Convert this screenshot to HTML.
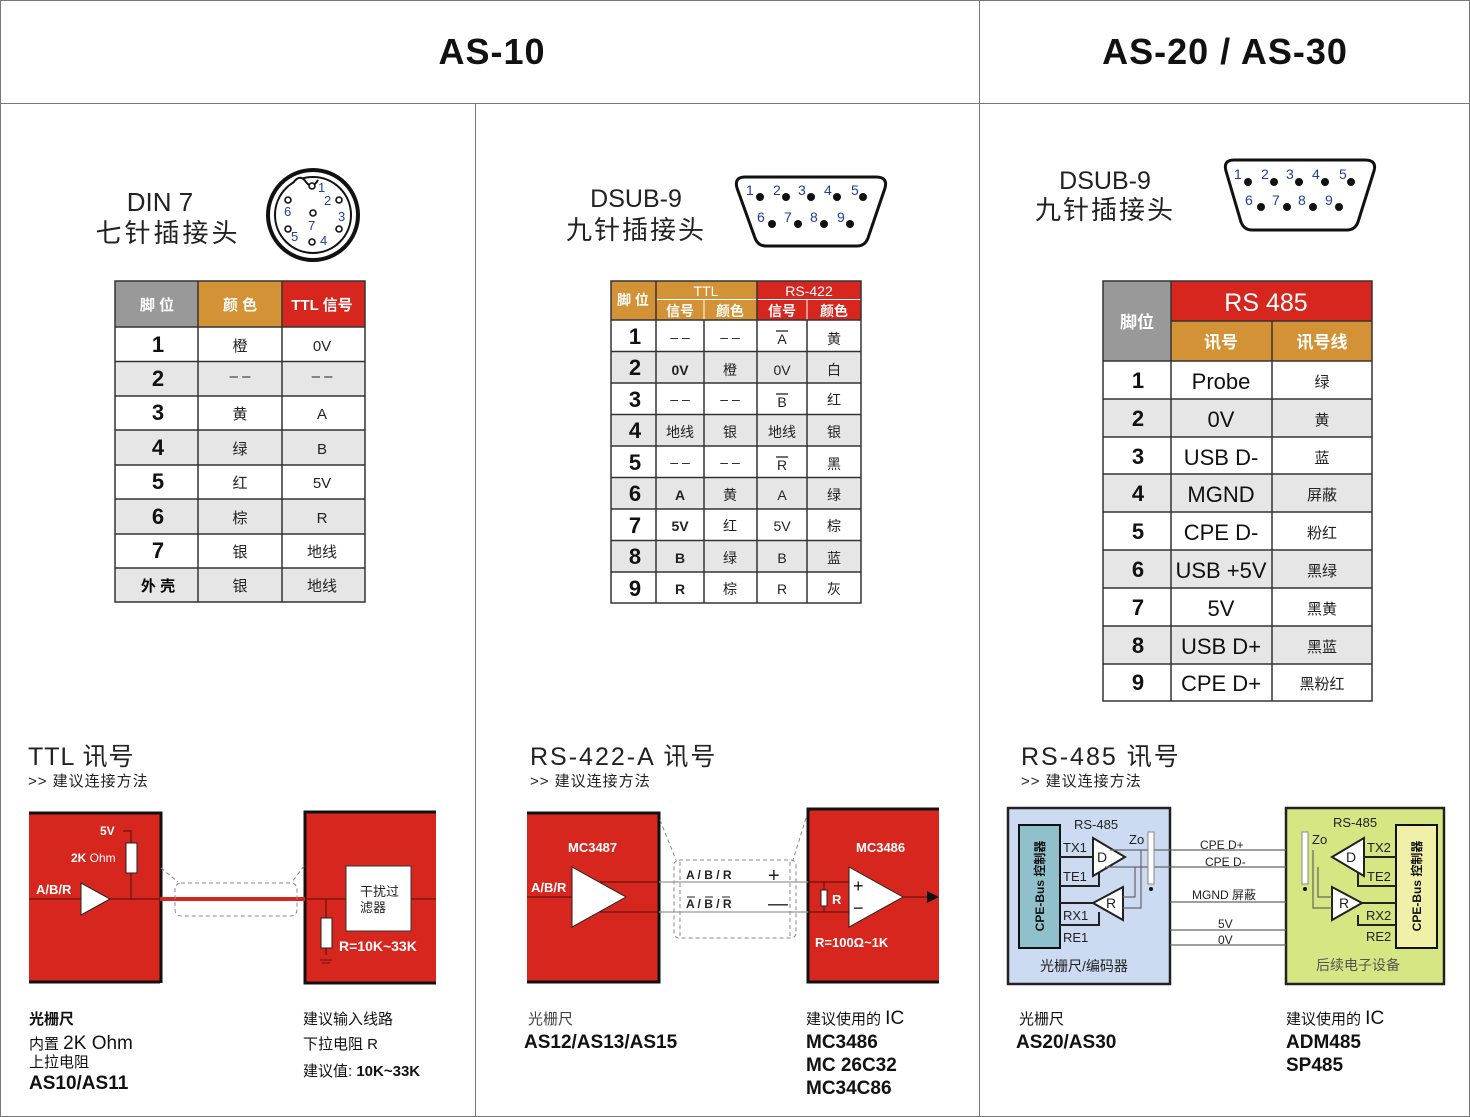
<!DOCTYPE html>
<html><head><meta charset="utf-8"><style>
html,body{margin:0;padding:0;background:#fff}
svg{display:block}
text{font-family:"Liberation Sans","Noto Sans CJK SC",sans-serif}
.b{font-weight:bold}
</style></head><body>
<svg width="1470" height="1117" viewBox="0 0 1470 1117" xmlns="http://www.w3.org/2000/svg">
<rect x="0.5" y="0.5" width="1469" height="1116" fill="none" stroke="#777" stroke-width="1"/>
<line x1="0" y1="103.5" x2="1470" y2="103.5" stroke="#777"/>
<line x1="979.5" y1="0" x2="979.5" y2="1117" stroke="#777"/>
<line x1="475.5" y1="103" x2="475.5" y2="1117" stroke="#777"/>
<text x="492" y="64" font-size="36" class="b" text-anchor="middle" fill="#111" letter-spacing="1">AS-10</text>
<text x="1225" y="64" font-size="36" class="b" text-anchor="middle" fill="#111" letter-spacing="1">AS-20 / AS-30</text>

<text x="160" y="211" font-size="26" text-anchor="middle" fill="#222">DIN 7</text>
<text x="168" y="242" font-size="26" text-anchor="middle" fill="#222" letter-spacing="3">七针插接头</text>
<g fill="none" stroke="#111">
<circle cx="313" cy="215" r="45" stroke-width="4"/>
<circle cx="313" cy="215" r="38" stroke-width="2"/>
</g>
<path d="M293 183 Q300 173 306 182 Q312 190 318 180" fill="#fff" stroke="#111" stroke-width="2"/>
<g fill="#fff" stroke="#111" stroke-width="1.6">
<circle cx="312" cy="186" r="3"/><circle cx="339" cy="200" r="3"/><circle cx="339" cy="229" r="3"/>
<circle cx="312" cy="242" r="3"/><circle cx="288" cy="229" r="3"/><circle cx="288" cy="200" r="3"/><circle cx="313" cy="213" r="3"/>
</g>
<g fill="#1d3fa0" font-size="13">
<text x="318" y="192">1</text><text x="324" y="205">2</text><text x="338" y="221">3</text><text x="320" y="245">4</text>
<text x="291" y="241">5</text><text x="284" y="216">6</text><text x="308" y="230">7</text>
</g>

<rect x="115" y="281" width="83" height="46" fill="#999"/>
<rect x="198" y="281" width="84" height="46" fill="#d49236"/>
<rect x="282" y="281" width="83" height="46" fill="#d7261e"/>
<g fill="#fff" font-size="15" class="b" text-anchor="middle">
<text x="157" y="310">脚 位</text><text x="240" y="310">颜 色</text><text x="322" y="310">TTL 信号</text>
</g>
<g fill="#e6e6e6">
<rect x="115" y="361.5" width="250" height="34.5"/><rect x="115" y="430" width="250" height="35"/>
<rect x="115" y="499" width="250" height="35"/><rect x="115" y="568" width="250" height="34"/>
</g>
<g stroke="#333" stroke-width="1.5" fill="none">
<rect x="115" y="281" width="250" height="321"/>
<line x1="198" y1="281" x2="198" y2="602"/><line x1="282" y1="281" x2="282" y2="602"/>
<line x1="115" y1="327" x2="365" y2="327"/><line x1="115" y1="361.5" x2="365" y2="361.5"/>
<line x1="115" y1="396" x2="365" y2="396"/><line x1="115" y1="430" x2="365" y2="430"/>
<line x1="115" y1="465" x2="365" y2="465"/><line x1="115" y1="499" x2="365" y2="499"/>
<line x1="115" y1="534" x2="365" y2="534"/><line x1="115" y1="568" x2="365" y2="568"/>
</g>
<g font-size="22" class="b" text-anchor="middle" fill="#111">
<text x="158" y="352">1</text><text x="158" y="386">2</text><text x="158" y="420">3</text><text x="158" y="455">4</text>
<text x="158" y="489">5</text><text x="158" y="524">6</text><text x="158" y="558">7</text>
</g>
<text x="158" y="591" font-size="15" class="b" text-anchor="middle">外 壳</text>
<g font-size="15" text-anchor="middle" fill="#222">
<text x="240" y="351">橙</text><text x="322" y="351">0V</text>
<text x="240" y="381">– –</text><text x="322" y="381">– –</text>
<text x="240" y="419">黄</text><text x="322" y="419">A</text>
<text x="240" y="454">绿</text><text x="322" y="454">B</text>
<text x="240" y="488">红</text><text x="322" y="488">5V</text>
<text x="240" y="523">棕</text><text x="322" y="523">R</text>
<text x="240" y="557">银</text><text x="322" y="557">地线</text>
<text x="240" y="591">银</text><text x="322" y="591">地线</text>
</g>

<text x="636" y="207" font-size="25" text-anchor="middle" fill="#222">DSUB-9</text>
<text x="636" y="239" font-size="26" text-anchor="middle" fill="#222" letter-spacing="2">九针插接头</text>
<path d="M745 177 L876 177 Q888 177 885 188 L868 238 Q865 246 857 246 L766 246 Q758 246 755 238 L737 188 Q734 177 745 177 Z" fill="#fff" stroke="#111" stroke-width="3"/>
<g fill="#111"><circle cx="760" cy="197" r="4"/><circle cx="786" cy="197" r="4"/><circle cx="811" cy="197" r="4"/><circle cx="837" cy="197" r="4"/><circle cx="863" cy="197" r="4"/>
<circle cx="772" cy="224" r="4"/><circle cx="798" cy="224" r="4"/><circle cx="824" cy="224" r="4"/><circle cx="850" cy="224" r="4"/></g>
<g fill="#1d3fa0" font-size="14"><text x="746" y="195">1</text><text x="773" y="195">2</text><text x="798" y="195">3</text><text x="824" y="195">4</text><text x="851" y="195">5</text>
<text x="757" y="222">6</text><text x="784" y="222">7</text><text x="810" y="222">8</text><text x="837" y="222">9</text></g>

<rect x="611" y="281" width="45" height="39" fill="#d49236"/>
<rect x="656" y="281" width="101" height="39" fill="#d49236"/>
<rect x="757" y="281" width="104" height="39" fill="#d7261e"/>
<g fill="#fff" font-size="14" class="b" text-anchor="middle">
<text x="633" y="305">脚 位</text>
<text x="680" y="316">信号</text><text x="730" y="316">颜色</text><text x="782" y="316">信号</text><text x="834" y="316">颜色</text>
</g>
<g fill="#fff" font-size="14" text-anchor="middle"><text x="706" y="296">TTL</text><text x="809" y="296">RS-422</text></g>
<g stroke="#fff" stroke-width="1"><line x1="656" y1="299.5" x2="861" y2="299.5"/><line x1="704" y1="300" x2="704" y2="320"/><line x1="807" y1="300" x2="807" y2="320"/></g>
<g fill="#e6e6e6">
<rect x="611" y="351.5" width="250" height="31.5"/><rect x="611" y="414.5" width="250" height="31.5"/>
<rect x="611" y="477.5" width="250" height="31.5"/><rect x="611" y="540.5" width="250" height="31.5"/>
</g>
<g stroke="#333" stroke-width="1.5" fill="none">
<rect x="611" y="281" width="250" height="322"/>
<line x1="656" y1="281" x2="656" y2="603"/><line x1="757" y1="281" x2="757" y2="603"/>
<line x1="704" y1="320" x2="704" y2="603"/><line x1="807" y1="320" x2="807" y2="603"/>
<line x1="611" y1="320" x2="861" y2="320"/><line x1="611" y1="351.5" x2="861" y2="351.5"/>
<line x1="611" y1="383" x2="861" y2="383"/><line x1="611" y1="414.5" x2="861" y2="414.5"/>
<line x1="611" y1="446" x2="861" y2="446"/><line x1="611" y1="477.5" x2="861" y2="477.5"/>
<line x1="611" y1="509" x2="861" y2="509"/><line x1="611" y1="540.5" x2="861" y2="540.5"/>
<line x1="611" y1="572" x2="861" y2="572"/>
</g>
<g font-size="22" class="b" text-anchor="middle" fill="#111">
<text x="635" y="344">1</text><text x="635" y="375">2</text><text x="635" y="407">3</text><text x="635" y="438">4</text><text x="635" y="470">5</text>
<text x="635" y="501">6</text><text x="635" y="533">7</text><text x="635" y="564">8</text><text x="635" y="596">9</text>
</g>
<g font-size="14" text-anchor="middle" fill="#222">
<text x="680" y="342">– –</text><text x="730" y="342">– –</text><text x="782" y="344">A</text><text x="834" y="344">黄</text>
<text x="680" y="375" class="b">0V</text><text x="730" y="375">橙</text><text x="782" y="375">0V</text><text x="834" y="375">白</text>
<text x="680" y="404">– –</text><text x="730" y="404">– –</text><text x="782" y="407">B</text><text x="834" y="405">红</text>
<text x="680" y="437">地线</text><text x="730" y="437">银</text><text x="782" y="437">地线</text><text x="834" y="437">银</text>
<text x="680" y="467">– –</text><text x="730" y="467">– –</text><text x="782" y="470">R</text><text x="834" y="469">黑</text>
<text x="680" y="500" class="b">A</text><text x="730" y="500">黄</text><text x="782" y="500">A</text><text x="834" y="500">绿</text>
<text x="680" y="531" class="b">5V</text><text x="730" y="531">红</text><text x="782" y="531">5V</text><text x="834" y="531">棕</text>
<text x="680" y="563" class="b">B</text><text x="730" y="563">绿</text><text x="782" y="563">B</text><text x="834" y="563">蓝</text>
<text x="680" y="594" class="b">R</text><text x="730" y="594">棕</text><text x="782" y="594">R</text><text x="834" y="594">灰</text>
</g>
<g stroke="#222" stroke-width="1.3"><line x1="776" y1="331" x2="788" y2="331"/><line x1="776" y1="394" x2="788" y2="394"/><line x1="776" y1="457" x2="788" y2="457"/></g>

<text x="1105" y="189" font-size="25" text-anchor="middle" fill="#222">DSUB-9</text>
<text x="1105" y="219" font-size="26" text-anchor="middle" fill="#222" letter-spacing="2">九针插接头</text>
<path d="M1234 160 L1365 160 Q1377 160 1374 171 L1358 222 Q1355 230 1347 230 L1252 230 Q1244 230 1241 222 L1226 171 Q1223 160 1234 160 Z" fill="#fff" stroke="#111" stroke-width="3"/>
<g fill="#111"><circle cx="1248" cy="182" r="4"/><circle cx="1274" cy="182" r="4"/><circle cx="1299" cy="182" r="4"/><circle cx="1325" cy="182" r="4"/><circle cx="1351" cy="182" r="4"/>
<circle cx="1261" cy="207" r="4"/><circle cx="1287" cy="207" r="4"/><circle cx="1313" cy="207" r="4"/><circle cx="1339" cy="207" r="4"/></g>
<g fill="#1d3fa0" font-size="14"><text x="1234" y="179">1</text><text x="1261" y="179">2</text><text x="1286" y="179">3</text><text x="1312" y="179">4</text><text x="1339" y="179">5</text>
<text x="1245" y="205">6</text><text x="1272" y="205">7</text><text x="1298" y="205">8</text><text x="1325" y="205">9</text></g>

<rect x="1103" y="281" width="68" height="80" fill="#999"/>
<rect x="1171" y="281" width="201" height="40" fill="#d7261e"/>
<rect x="1171" y="321" width="201" height="40" fill="#d49236"/>
<text x="1137" y="328" font-size="17" class="b" fill="#fff" text-anchor="middle">脚位</text>
<text x="1266" y="311" font-size="25" fill="#fff" text-anchor="middle">RS 485</text>
<text x="1221" y="348" font-size="17" class="b" fill="#fff" text-anchor="middle">讯号</text>
<text x="1322" y="348" font-size="17" class="b" fill="#fff" text-anchor="middle">讯号线</text>
<g fill="#e6e6e6">
<rect x="1103" y="399" width="269" height="38"/><rect x="1103" y="474" width="269" height="38"/>
<rect x="1103" y="550" width="269" height="38"/><rect x="1103" y="626" width="269" height="38"/>
</g>
<g stroke="#333" stroke-width="1.5" fill="none">
<rect x="1103" y="281" width="269" height="420"/>
<line x1="1171" y1="281" x2="1171" y2="701"/><line x1="1272" y1="321" x2="1272" y2="701"/>
<line x1="1171" y1="321" x2="1372" y2="321"/>
<line x1="1103" y1="361" x2="1372" y2="361"/><line x1="1103" y1="399" x2="1372" y2="399"/>
<line x1="1103" y1="437" x2="1372" y2="437"/><line x1="1103" y1="474" x2="1372" y2="474"/>
<line x1="1103" y1="512" x2="1372" y2="512"/><line x1="1103" y1="550" x2="1372" y2="550"/>
<line x1="1103" y1="588" x2="1372" y2="588"/><line x1="1103" y1="626" x2="1372" y2="626"/>
<line x1="1103" y1="664" x2="1372" y2="664"/>
</g>
<g font-size="22" class="b" text-anchor="middle" fill="#111">
<text x="1138" y="388">1</text><text x="1138" y="426">2</text><text x="1138" y="464">3</text><text x="1138" y="501">4</text><text x="1138" y="539">5</text>
<text x="1138" y="577">6</text><text x="1138" y="615">7</text><text x="1138" y="653">8</text><text x="1138" y="690">9</text>
</g>
<g font-size="22" text-anchor="middle" fill="#111">
<text x="1221" y="389">Probe</text><text x="1221" y="427">0V</text><text x="1221" y="465">USB D-</text><text x="1221" y="502">MGND</text>
<text x="1221" y="540">CPE D-</text><text x="1221" y="578">USB +5V</text><text x="1221" y="616">5V</text><text x="1221" y="654">USB D+</text><text x="1221" y="691">CPE D+</text>
</g>
<g font-size="15" text-anchor="middle" fill="#222">
<text x="1322" y="387">绿</text><text x="1322" y="425">黄</text><text x="1322" y="463">蓝</text><text x="1322" y="500">屏蔽</text>
<text x="1322" y="538">粉红</text><text x="1322" y="576">黑绿</text><text x="1322" y="614">黑黄</text><text x="1322" y="652">黑蓝</text><text x="1322" y="689">黑粉红</text>
</g>

<text x="28" y="765" font-size="25" fill="#222" letter-spacing="1">TTL 讯号</text>
<text x="28" y="786" font-size="15" fill="#222" letter-spacing="1">&gt;&gt; 建议连接方法</text>
<text x="530" y="765" font-size="25" fill="#222" letter-spacing="2">RS-422-A 讯号</text>
<text x="530" y="786" font-size="15" fill="#222" letter-spacing="1">&gt;&gt; 建议连接方法</text>
<text x="1021" y="765" font-size="25" fill="#222" letter-spacing="2">RS-485 讯号</text>
<text x="1021" y="786" font-size="15" fill="#222" letter-spacing="1">&gt;&gt; 建议连接方法</text>

<rect x="29" y="812" width="131" height="170" fill="#d7261e"/>
<path d="M29 813 H161 V983" fill="none" stroke="#111" stroke-width="3"/>
<line x1="29" y1="982" x2="160" y2="982" stroke="#111" stroke-width="3"/>
<rect x="305" y="812" width="131" height="171" fill="#d7261e"/>
<path d="M436 812 H305 V983 H436" fill="none" stroke="#111" stroke-width="3"/>
<g stroke="#6a1410" stroke-width="1.3" fill="none">
<line x1="29" y1="899" x2="160" y2="899"/>
<polyline points="123,831 131,831 131,899"/>
<line x1="305" y1="899" x2="436" y2="899"/>
<polyline points="326,899 326,955"/>
</g>
<line x1="160" y1="899" x2="305" y2="899" stroke="#d7261e" stroke-width="4"/>
<rect x="126" y="843" width="11" height="30" fill="#fff" stroke="#222"/>
<polygon points="81,883 110,899 81,915" fill="#fff" stroke="#222"/>
<rect x="321" y="918" width="11" height="30" fill="#fff" stroke="#222"/>
<g stroke="#6a1410"><line x1="320" y1="960" x2="332" y2="960"/><line x1="322" y1="963" x2="330" y2="963"/></g>
<rect x="346" y="866" width="65" height="65" fill="#fff" stroke="#333"/>
<g fill="#fff" font-size="12" class="b"><text x="100" y="835">5V</text><text x="36" y="894" font-size="13">A/B/R</text><text x="339" y="951" font-size="14">R=10K~33K</text></g>
<text x="71" y="862" font-size="12" fill="#fff"><tspan class="b">2K</tspan> Ohm</text>
<text x="360" y="896" font-size="13" fill="#222">干扰过</text><text x="360" y="912" font-size="13" fill="#222">滤器</text>
<g stroke="#888" stroke-dasharray="4,3" fill="none" stroke-width="1">
<rect x="175" y="883" width="122" height="33" rx="6"/>
<line x1="161" y1="868" x2="178" y2="882"/><line x1="304" y1="866" x2="292" y2="882"/>
</g>
<g fill="#111">
<text x="29" y="1024" font-size="15" class="b">光栅尺</text>
<text x="29" y="1049" font-size="15">内置 <tspan font-size="19">2K Ohm</tspan></text>
<text x="29" y="1067" font-size="15">上拉电阻</text>
<text x="29" y="1089" font-size="19" class="b">AS10/AS11</text>
<text x="303" y="1024" font-size="15">建议输入线路</text>
<text x="303" y="1049" font-size="15">下拉电阻 R</text>
<text x="303" y="1076" font-size="15">建议值: <tspan class="b">10K~33K</tspan></text>
</g>

<rect x="527" y="812" width="131" height="170" fill="#d7261e"/>
<path d="M527 813 H659 V982 H527" fill="none" stroke="#111" stroke-width="3"/>
<rect x="808" y="809" width="131" height="173" fill="#d7261e"/>
<path d="M939 809 H808 V982 H939" fill="none" stroke="#111" stroke-width="3"/>
<g stroke="#6a1410" stroke-width="1.2"><line x1="527" y1="897" x2="575" y2="897"/><line x1="600" y1="882" x2="659" y2="882"/><line x1="600" y1="912" x2="659" y2="912"/>
<line x1="808" y1="882" x2="850" y2="882"/><line x1="808" y1="912" x2="850" y2="912"/><line x1="824" y1="882" x2="824" y2="912"/><line x1="903" y1="897" x2="930" y2="897"/></g>
<g stroke="#999" stroke-width="1.3"><line x1="659" y1="882" x2="808" y2="882"/><line x1="659" y1="912" x2="808" y2="912"/></g>
<polygon points="572,867 626,897 572,927" fill="#fff" stroke="#222"/>
<polygon points="849,867 903,897 849,927" fill="#fff" stroke="#222"/>
<polygon points="927,891 939,897 927,903" fill="#111"/>
<rect x="821" y="890" width="6" height="16" fill="#fff" stroke="#222"/>
<g fill="#fff" font-size="13" class="b"><text x="568" y="852">MC3487</text><text x="856" y="852">MC3486</text><text x="531" y="892">A/B/R</text><text x="832" y="904">R</text><text x="815" y="947">R=100Ω~1K</text></g>
<g fill="#111"><text x="853" y="892" font-size="18">+</text><text x="853" y="914" font-size="18">−</text></g>
<g fill="#222" font-size="12" class="b"><text x="686" y="879">A / B / R</text><text x="686" y="908">A / B / R</text></g>
<g stroke="#222"><line x1="687" y1="897" x2="695" y2="897"/><line x1="705" y1="897" x2="713" y2="897"/><line x1="722" y1="897" x2="730" y2="897"/></g>
<g fill="#222" font-size="20"><text x="768" y="882">+</text><text x="768" y="910">—</text></g>
<g stroke="#888" stroke-dasharray="4,3" fill="none">
<rect x="674" y="860" width="122" height="78" rx="5"/>
<line x1="660" y1="820" x2="676" y2="860"/><line x1="806" y1="818" x2="793" y2="860"/>
<line x1="680" y1="862" x2="680" y2="936"/><line x1="790" y1="862" x2="790" y2="936"/>
</g>
<g fill="#111">
<text x="528" y="1024" font-size="15" fill="#444">光栅尺</text>
<text x="524" y="1048" font-size="19" class="b">AS12/AS13/AS15</text>
<text x="806" y="1024" font-size="15">建议使用的 <tspan font-size="19">IC</tspan></text>
<text x="806" y="1048" font-size="19" class="b">MC3486</text>
<text x="806" y="1071" font-size="19" class="b">MC 26C32</text>
<text x="806" y="1094" font-size="19" class="b">MC34C86</text>
</g>

<rect x="1008" y="808" width="162" height="176" fill="#ccdaf2" stroke="#222" stroke-width="2.5"/>
<rect x="1019" y="825" width="41" height="123" fill="#8fc0cc" stroke="#111" stroke-width="2"/>
<rect x="1286" y="808" width="158" height="176" fill="#d6e683" stroke="#222" stroke-width="2.5"/>
<rect x="1396" y="825" width="41" height="123" fill="#f0f0a8" stroke="#111" stroke-width="2"/>
<text transform="translate(1044,886) rotate(-90)" font-size="12" class="b" text-anchor="middle" fill="#111">CPE-Bus  控制器</text>
<text transform="translate(1421,886) rotate(-90)" font-size="12" class="b" text-anchor="middle" fill="#111">CPE-Bus  控制器</text>
<g stroke="#222" stroke-width="2" fill="none">
<polyline points="1060,857 1095,857"/><polyline points="1060,886 1099,886 1099,870"/>
<polyline points="1060,903 1093,903"/><polyline points="1060,925 1099,925 1099,912"/>
<polyline points="1396,857 1365,857"/><polyline points="1396,886 1358,886 1358,870"/>
<polyline points="1396,903 1362,903"/><polyline points="1396,925 1358,925 1358,915"/>
</g>
<polygon points="1093,838 1125,857 1093,876" fill="#fff" stroke="#222" stroke-width="2"/>
<polygon points="1123,887 1093,903 1123,920" fill="#fff" stroke="#222" stroke-width="2"/>
<polygon points="1364,838 1332,857 1364,876" fill="#fff" stroke="#222" stroke-width="2"/>
<polygon points="1332,887 1362,903 1332,920" fill="#fff" stroke="#222" stroke-width="2"/>
<g stroke="#666" stroke-width="1.2" fill="none">
<line x1="1110" y1="850" x2="1286" y2="850"/><line x1="1105" y1="867" x2="1286" y2="867"/>
<line x1="1170" y1="902" x2="1286" y2="902"/><line x1="1170" y1="930" x2="1286" y2="930"/><line x1="1170" y1="945" x2="1286" y2="945"/>
<polyline points="1135,867 1135,897 1123,897"/><polyline points="1141,850 1141,908 1123,908"/>
<polyline points="1318,867 1318,897 1332,897"/><polyline points="1313,850 1313,908 1332,908"/>
</g>
<rect x="1148" y="832" width="6" height="52" fill="#fff" stroke="#888"/>
<rect x="1302" y="832" width="6" height="52" fill="#fff" stroke="#888"/>
<circle cx="1151" cy="889" r="2" fill="#111"/><circle cx="1305" cy="889" r="2" fill="#111"/>
<g font-size="13" fill="#222">
<text x="1074" y="829">RS-485</text><text x="1333" y="827">RS-485</text>
<text x="1129" y="844">Zo</text><text x="1312" y="844">Zo</text>
<text x="1063" y="852">TX1</text><text x="1063" y="881">TE1</text><text x="1063" y="920">RX1</text><text x="1063" y="942">RE1</text>
<text x="1367" y="852">TX2</text><text x="1367" y="881">TE2</text><text x="1366" y="920">RX2</text><text x="1366" y="941">RE2</text>
<text x="1097" y="862" font-size="14">D</text><text x="1106" y="908" font-size="14">R</text>
<text x="1346" y="862" font-size="14">D</text><text x="1339" y="908" font-size="14">R</text>
<text x="1200" y="849" font-size="12">CPE  D+</text><text x="1205" y="866" font-size="12">CPE D-</text>
<text x="1192" y="899" font-size="12">MGND 屏蔽</text><text x="1218" y="928" font-size="12">5V</text><text x="1218" y="944" font-size="12">0V</text>
<text x="1040" y="971" font-size="14">光栅尺/编码器</text>
<text x="1316" y="970" font-size="14" fill="#555">后续电子设备</text>
</g>
<g fill="#111">
<text x="1019" y="1024" font-size="15">光栅尺</text>
<text x="1016" y="1048" font-size="19" class="b">AS20/AS30</text>
<text x="1286" y="1024" font-size="15">建议使用的 <tspan font-size="19">IC</tspan></text>
<text x="1286" y="1048" font-size="19" class="b">ADM485</text>
<text x="1286" y="1071" font-size="19" class="b">SP485</text>
</g>
</svg>
</body></html>
